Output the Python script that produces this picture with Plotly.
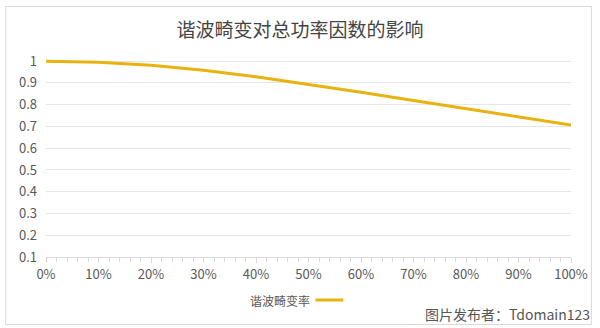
import plotly.graph_objects as go

thd_pct = [0, 10, 20, 30, 40, 50, 60, 70, 80, 90, 100]
power_factor = [1.0, 0.995, 0.981, 0.958, 0.928, 0.894, 0.857, 0.819, 0.781, 0.743, 0.707]
y_ticks = [0.1, 0.2, 0.3, 0.4, 0.5, 0.6, 0.7, 0.8, 0.9, 1]
y_labels = ["0.1", "0.2", "0.3", "0.4", "0.5", "0.6", "0.7", "0.8", "0.9", "1"]
x_ticks = [0, 10, 20, 30, 40, 50, 60, 70, 80, 90, 100]
x_labels = [f"{v}%" for v in x_ticks]
title = "谐波畸变对总功率因数的影响"
series_name = "谐波畸变率"
watermark = "图片发布者：Tdomain123"

FONT = "Noto Sans CJK SC"
LINE = "#E8B20F"

fig = go.Figure()
fig.add_trace(go.Scatter(x=thd_pct, y=power_factor, mode="lines", name=series_name,
                         line=dict(color=LINE, width=3), showlegend=False))

W, H = 600, 328
ml, mr, mt, mb = 46, 26, 59, 71
pw, ph = W - ml - mr, H - mt - mb

def px(x):
    return (x - ml) / pw

def py(y):
    return (H - mb - y) / ph

fig.update_layout(
    width=W, height=H,
    margin=dict(l=ml, r=mr, t=mt, b=mb),
    paper_bgcolor="white", plot_bgcolor="white",
    font=dict(family=FONT, color="#595959", size=13),
    title=dict(text=title, x=0.5, xanchor="center", y=1 - 30 / H, yanchor="middle",
               font=dict(family=FONT, size=19, color="#444444")),
    xaxis=dict(range=[0, 100], tickvals=x_ticks, ticktext=x_labels, showgrid=False,
               zeroline=False, showline=True, linecolor="#d9d9d9", linewidth=1,
               ticks="outside", ticklen=5, tickcolor="#d9d9d9",
               minor=dict(dtick=2, ticks="outside", ticklen=4, tickcolor="#d9d9d9"),
               tickfont=dict(size=13, color="#595959")),
    yaxis=dict(range=[0.1, 1.01], tickvals=y_ticks, ticktext=y_labels, showgrid=True,
               gridcolor="#e6e6e6", gridwidth=1, zeroline=False, showline=False,
               ticks="", ticklabelstandoff=8, tickfont=dict(size=13, color="#595959")),
    showlegend=False,
)

# outer chart frame
fig.add_shape(type="rect", xref="paper", yref="paper",
              x0=px(5.5), x1=px(594.5), y0=py(324.5), y1=py(6.5),
              line=dict(color="#d9d9d9", width=1), layer="below")

# legend (text then line sample)
fig.add_annotation(xref="paper", yref="paper", x=px(314), y=py(300), xanchor="right",
                   yanchor="middle", text=series_name, showarrow=False,
                   font=dict(family=FONT, size=12, color="#595959"))
fig.add_shape(type="line", xref="paper", yref="paper", x0=px(317), x1=px(345),
              y0=py(300), y1=py(300), line=dict(color=LINE, width=3))

# watermark
fig.add_annotation(xref="paper", yref="paper", x=px(595), y=py(314), xanchor="right",
                   yanchor="middle", text=watermark, showarrow=False,
                   font=dict(family=FONT, size=14, color="#555555"))

fig.write_html("out.html")
